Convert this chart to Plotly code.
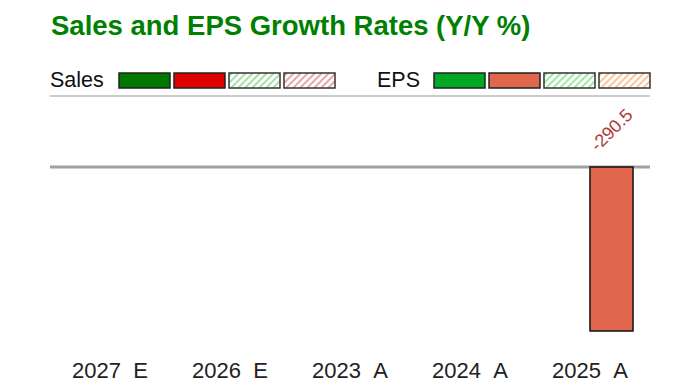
import plotly.graph_objects as go

# ---- data ----
categories = ["2027\u00a0\u00a0E", "2026\u00a0\u00a0E", "2023\u00a0\u00a0A", "2024\u00a0\u00a0A", "2025\u00a0\u00a0A"]
is_actual = [False, False, True, True, True]
sales_growth = [None, None, None, None, None]
eps_growth = [None, None, None, None, -290.5]

title_text = "Sales and EPS Growth Rates (Y/Y %)"

# ---- styles ----
SALES_UP, SALES_DN = "#007800", "#e00000"
EPS_UP, EPS_DN = "#00a824", "#e0674b"
SALES_EST_UP, SALES_EST_DN = "#a8e0a8", "#e8a8a8"
EPS_EST_UP, EPS_EST_DN = "#a0eaa0", "#f8c898"

OFF = 8  # page body margin
W, H = 684, 379
ML, MR, MT, MB = 42, 42, 89, 32
PW, PH = W - ML - MR, H - MT - MB


def px(xp):
    return (xp - OFF - ML) / PW


def py(yp):
    return (H - MB - (yp - OFF)) / PH


def colors_for(vals, up, dn, est_up, est_dn):
    out = []
    for v, a in zip(vals, is_actual):
        if v is None:
            out.append(up)
        elif a:
            out.append(up if v >= 0 else dn)
        else:
            out.append(est_up if v >= 0 else est_dn)
    return out


fig = go.Figure()
fig.add_trace(go.Bar(
    x=categories, y=sales_growth, name="Sales",
    marker=dict(color=colors_for(sales_growth, SALES_UP, SALES_DN, SALES_EST_UP, SALES_EST_DN),
                line=dict(color="#111111", width=1.5)),
    hoverinfo="x+y",
))
fig.add_trace(go.Bar(
    x=categories, y=eps_growth, name="EPS",
    marker=dict(color=colors_for(eps_growth, EPS_UP, EPS_DN, EPS_EST_UP, EPS_EST_DN),
                line=dict(color="#111111", width=1.5)),
    hoverinfo="x+y",
))

annotations = []
shapes = []

# value labels (above zero line, rotated)
bar_half = PW / len(categories) * (1 - 0.283) / 4
for series, shift in ((sales_growth, -bar_half), (eps_growth, bar_half)):
    for c, v in zip(categories, series):
        if v is None:
            continue
        annotations.append(dict(
            x=c, y=0, xref="x", yref="y", text=f"{v:.1f}", showarrow=False,
            textangle=-45, xanchor="center", yanchor="middle",
            xshift=shift, yshift=37,
            font=dict(family="Liberation Sans, Arial", size=18, color="#b03a3a"),
        ))

# title
annotations.append(dict(
    x=px(49), y=py(26), xref="paper", yref="paper", text=f"<b>{title_text}</b>",
    showarrow=False, xanchor="left", yanchor="middle",
    font=dict(family="Liberation Sans, Arial", size=27.5, color="#008000"),
))

# legend
legend_font = dict(family="Liberation Sans, Arial", size=21.5, color="#111111")
annotations.append(dict(x=px(48), y=py(80), xref="paper", yref="paper", text="Sales",
                        showarrow=False, xanchor="left", yanchor="middle", font=legend_font))
annotations.append(dict(x=px(375), y=py(80), xref="paper", yref="paper", text="EPS",
                        showarrow=False, xanchor="left", yanchor="middle", font=legend_font))

box_y0, box_y1 = 73, 88
legend_boxes = [
    (119, SALES_UP, False), (174, SALES_DN, False), (229, SALES_EST_UP, True), (284, SALES_EST_DN, True),
    (434, EPS_UP, False), (489, EPS_DN, False), (544, EPS_EST_UP, True), (599, EPS_EST_DN, True),
]
for bx, col, hatched in legend_boxes:
    x0, x1 = bx, bx + 51
    if hatched:
        shapes.append(dict(type="rect", xref="paper", yref="paper",
                           x0=px(x0), x1=px(x1), y0=py(box_y1), y1=py(box_y0),
                           fillcolor="white", line=dict(width=0), layer="above"))
        c = x0 + box_y0 + 3
        while c < x1 + box_y1:
            xa = max(x0, c - box_y1)
            xb = min(x1, c - box_y0)
            if xb > xa:
                shapes.append(dict(type="line", xref="paper", yref="paper",
                                   x0=px(xa), y0=py(c - xa), x1=px(xb), y1=py(c - xb),
                                   line=dict(color=col, width=2), layer="above"))
            c += 7
        shapes.append(dict(type="rect", xref="paper", yref="paper",
                           x0=px(x0), x1=px(x1), y0=py(box_y1), y1=py(box_y0),
                           fillcolor="rgba(0,0,0,0)", line=dict(color="#333333", width=1.5), layer="above"))
    else:
        shapes.append(dict(type="rect", xref="paper", yref="paper",
                           x0=px(x0), x1=px(x1), y0=py(box_y1), y1=py(box_y0),
                           fillcolor=col, line=dict(color="#222222", width=1.5), layer="above"))

# separator line under legend
shapes.append(dict(type="line", xref="paper", yref="paper", x0=0, x1=1, y0=py(96), y1=py(96),
                   line=dict(color="#cccccc", width=2)))
# zero line
shapes.append(dict(type="line", xref="paper", yref="y", x0=0, x1=1, y0=0, y1=0,
                   line=dict(color="#a0a0a0", width=3), layer="below"))

fig.update_layout(
    width=W, height=H,
    margin=dict(l=ML, r=MR, t=MT, b=MB, autoexpand=False),
    paper_bgcolor="white", plot_bgcolor="white",
    barmode="group", bargap=0.283, bargroupgap=0,
    showlegend=False,
    annotations=annotations, shapes=shapes,
    xaxis=dict(type="category", categoryorder="array", categoryarray=categories,
               showgrid=False, showline=False, zeroline=False, ticks="", automargin=False,
               tickfont=dict(family="Liberation Sans, Arial", size=22, color="#222222")),
    yaxis=dict(range=[-333.0, 124], showgrid=False, showline=False, zeroline=False,
               showticklabels=False, ticks="", automargin=False),
)

fig.write_html("out.html")
